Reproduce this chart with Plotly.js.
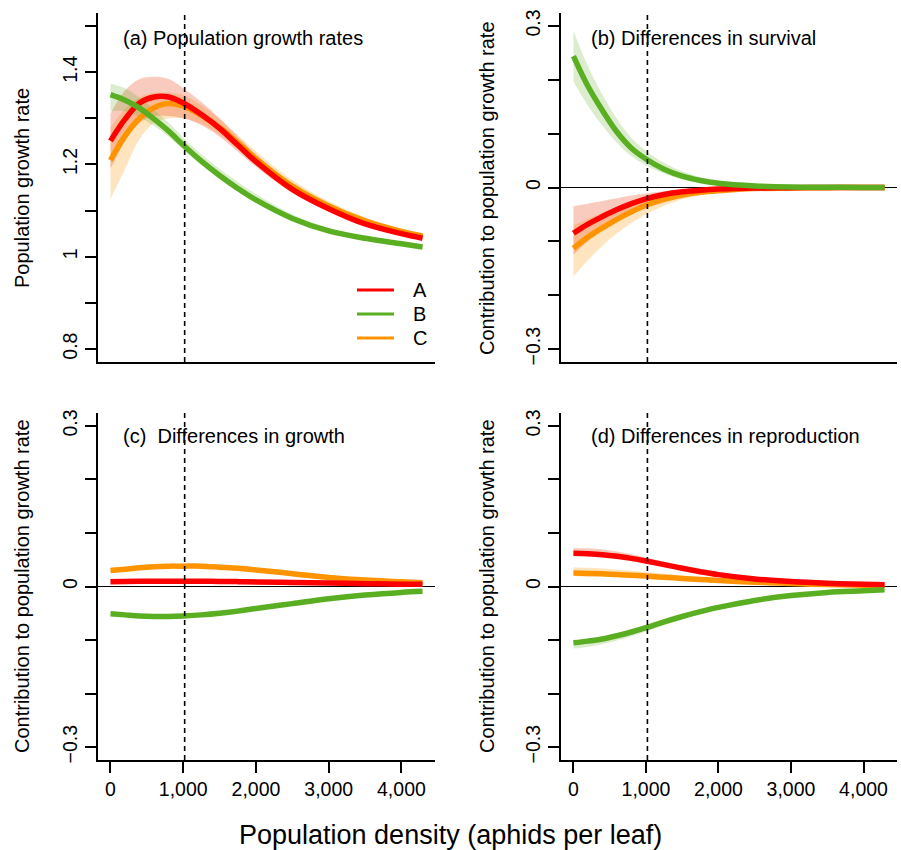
<!DOCTYPE html>
<html><head><meta charset="utf-8">
<script src="https://cdn.plot.ly/plotly-3.0.1.min.js"></script>
<style>html,body{margin:0;padding:0;background:#fff}</style>
</head><body><div id="plot" style="width:901px;height:850px"></div>
<script>
// ---------------- data ----------------
const density = [0, 200, 400, 600, 800, 1000, 1250, 1500, 1750, 2000, 2500, 3000, 3500, 4000, 4290];
const seriesNames = ['A', 'B', 'C'];
const seriesColors = ['#FF0000', '#5AAE22', '#FF9400'];
const ribbonColors = ['rgba(235,80,40,0.30)', 'rgba(90,174,34,0.22)', 'rgba(255,150,0,0.25)'];

// (a) population growth rates
const growthA = [1.251, 1.298, 1.333, 1.346, 1.346, 1.333, 1.308, 1.278, 1.242, 1.206, 1.146, 1.104, 1.071, 1.050, 1.040];
const growthB = [1.351, 1.339, 1.322, 1.298, 1.272, 1.242, 1.207, 1.176, 1.148, 1.123, 1.083, 1.056, 1.040, 1.028, 1.021];
const growthC = [1.209, 1.262, 1.300, 1.323, 1.332, 1.326, 1.306, 1.280, 1.247, 1.212, 1.153, 1.110, 1.078, 1.055, 1.045];
const growthA_lo = [1.190, 1.250, 1.290, 1.305, 1.305, 1.300, 1.285, 1.260, 1.228, 1.195, 1.138, 1.098, 1.066, 1.046, 1.037];
const growthA_hi = [1.310, 1.360, 1.385, 1.390, 1.385, 1.365, 1.335, 1.300, 1.260, 1.222, 1.158, 1.112, 1.077, 1.055, 1.045];
const growthB_lo = [1.315, 1.315, 1.302, 1.283, 1.260, 1.232, 1.199, 1.169, 1.142, 1.118, 1.079, 1.053, 1.037, 1.026, 1.019];
const growthB_hi = [1.375, 1.365, 1.345, 1.318, 1.290, 1.258, 1.222, 1.190, 1.162, 1.136, 1.092, 1.062, 1.044, 1.031, 1.023];
const growthC_lo = [1.125, 1.190, 1.255, 1.290, 1.300, 1.300, 1.288, 1.265, 1.234, 1.200, 1.142, 1.102, 1.071, 1.050, 1.041];
const growthC_hi = [1.280, 1.320, 1.345, 1.355, 1.355, 1.350, 1.328, 1.298, 1.263, 1.228, 1.166, 1.120, 1.085, 1.060, 1.050];

// (b) differences in survival
const survA = [-0.085, -0.068, -0.054, -0.041, -0.030, -0.021, -0.013, -0.008, -0.005, -0.003, -0.001, -0.0004, -0.0001, 0, 0];
const survB = [0.244, 0.188, 0.143, 0.103, 0.073, 0.053, 0.034, 0.021, 0.013, 0.008, 0.003, 0.001, 0.0005, 0.0002, 0.0001];
const survC = [-0.113, -0.092, -0.075, -0.059, -0.045, -0.033, -0.022, -0.014, -0.009, -0.006, -0.002, -0.001, -0.0003, -0.0001, 0];
const survA_lo = [-0.125, -0.100, -0.080, -0.062, -0.046, -0.033, -0.021, -0.013, -0.008, -0.005, -0.002, -0.0007, -0.0002, 0, 0];
const survA_hi = [-0.035, -0.030, -0.025, -0.020, -0.015, -0.011, -0.007, -0.004, -0.002, -0.001, 0, 0, 0, 0, 0];
const survB_lo = [0.197, 0.152, 0.115, 0.083, 0.058, 0.041, 0.026, 0.015, 0.009, 0.005, 0.002, 0.0005, 0.0002, 0.0001, 0];
const survB_hi = [0.290, 0.225, 0.172, 0.127, 0.092, 0.068, 0.046, 0.030, 0.019, 0.012, 0.005, 0.002, 0.001, 0.0004, 0.0002];
const survC_lo = [-0.165, -0.135, -0.108, -0.085, -0.066, -0.050, -0.034, -0.022, -0.014, -0.009, -0.004, -0.0015, -0.0005, -0.0002, 0];
const survC_hi = [-0.070, -0.058, -0.047, -0.037, -0.028, -0.020, -0.013, -0.008, -0.005, -0.003, -0.001, 0, 0, 0, 0];

// (c) differences in growth
const grA = [0.0090, 0.0094, 0.0097, 0.0099, 0.0100, 0.0100, 0.0098, 0.0095, 0.0091, 0.0086, 0.0075, 0.0064, 0.0053, 0.0044, 0.0040];
const grB = [-0.051, -0.053, -0.055, -0.056, -0.056, -0.055, -0.053, -0.050, -0.046, -0.041, -0.032, -0.023, -0.016, -0.011, -0.009];
const grC = [0.030, 0.032, 0.035, 0.037, 0.038, 0.038, 0.038, 0.036, 0.034, 0.031, 0.024, 0.017, 0.012, 0.009, 0.007];

// (d) differences in reproduction
const repA = [0.062, 0.0612, 0.0595, 0.0565, 0.0525, 0.0475, 0.0408, 0.0340, 0.0277, 0.0222, 0.0142, 0.0092, 0.0060, 0.0040, 0.0032];
const repB = [-0.105, -0.102, -0.098, -0.092, -0.085, -0.077, -0.066, -0.056, -0.047, -0.039, -0.026, -0.017, -0.011, -0.008, -0.006];
const repC = [0.025, 0.0245, 0.0236, 0.0224, 0.0210, 0.0194, 0.0172, 0.0150, 0.0130, 0.0112, 0.0080, 0.0055, 0.0037, 0.0025, 0.0020];
const repA_lo = [0.058, 0.057, 0.0555, 0.0525, 0.0488, 0.0440, 0.0377, 0.0312, 0.0254, 0.0202, 0.0128, 0.0082, 0.0052, 0.0034, 0.0027];
const repA_hi = [0.072, 0.0712, 0.0690, 0.0652, 0.0602, 0.0542, 0.0463, 0.0385, 0.0313, 0.0250, 0.0160, 0.0104, 0.0068, 0.0046, 0.0037];
const repB_lo = [-0.116, -0.113, -0.108, -0.101, -0.093, -0.084, -0.072, -0.061, -0.051, -0.042, -0.028, -0.018, -0.012, -0.0085, -0.0065];
const repB_hi = [-0.101, -0.098, -0.094, -0.088, -0.081, -0.073, -0.063, -0.053, -0.045, -0.037, -0.025, -0.016, -0.010, -0.0075, -0.0055];
const repC_lo = [0.019, 0.0187, 0.0180, 0.0171, 0.0160, 0.0148, 0.0131, 0.0114, 0.0099, 0.0085, 0.0061, 0.0042, 0.0028, 0.0019, 0.0015];
const repC_hi = [0.036, 0.0350, 0.0335, 0.0315, 0.0293, 0.0270, 0.0238, 0.0206, 0.0177, 0.0151, 0.0107, 0.0073, 0.0049, 0.0033, 0.0027];

const xTickVals = [0, 1000, 2000, 3000, 4000];
const xTickText = ['0', '1,000', '2,000', '3,000', '4,000'];
const yTickValsA = [0.8, 0.9, 1.0, 1.1, 1.2, 1.3, 1.4, 1.5];
const yTickTextA = ['0.8', '', '1', '', '1.2', '', '1.4', ''];
const yTickValsC = [-0.3, -0.2, -0.1, 0, 0.1, 0.2, 0.3];
const yTickTextC = ['\u22120.3', '', '', '0', '', '', '0.3'];
const referenceDensity = 1020;
const panelTitles = ['(a) Population growth rates', '(b) Differences in survival', '(c)  Differences in growth', '(d) Differences in reproduction'];
const yTitles = ['Population growth rate', 'Contribution to population growth rate', 'Contribution to population growth rate', 'Contribution to population growth rate'];
const xTitle = 'Population density (aphids per leaf)';

// ---------------- build ----------------
const W = 901, H = 850;
const FONT = 'Liberation Sans, Arial, Helvetica, sans-serif';
const px = v => v / W;
const py = v => 1 - v / H;

const panels = [
  {ax: '', lines: [growthA, growthB, growthC], ribbons: [[growthA_lo, growthA_hi], [growthB_lo, growthB_hi], [growthC_lo, growthC_hi]]},
  {ax: '2', lines: [survA, survB, survC], ribbons: [[survA_lo, survA_hi], [survB_lo, survB_hi], [survC_lo, survC_hi]]},
  {ax: '3', lines: [grA, grB, grC], ribbons: null},
  {ax: '4', lines: [repA, repB, repC], ribbons: [[repA_lo, repA_hi], [repB_lo, repB_hi], [repC_lo, repC_hi]]}
];
const drawOrder = [2, 0, 1]; // C, A, B (B on top)

const traces = [];
panels.forEach(p => {
  const xa = 'x' + p.ax, ya = 'y' + p.ax;
  if (p.ribbons) {
    [2, 0, 1].forEach(i => {
      const [lo, hi] = p.ribbons[i];
      traces.push({x: density, y: lo, xaxis: xa, yaxis: ya, mode: 'lines', line: {width: 0, shape: 'spline', color: ribbonColors[i]}, showlegend: false, hoverinfo: 'skip'});
      traces.push({x: density, y: hi, xaxis: xa, yaxis: ya, mode: 'lines', fill: 'tonexty', fillcolor: ribbonColors[i], line: {width: 0, shape: 'spline', color: ribbonColors[i]}, showlegend: false, hoverinfo: 'skip'});
    });
  }
  drawOrder.forEach(i => {
    traces.push({x: density, y: p.lines[i], xaxis: xa, yaxis: ya, mode: 'lines', name: seriesNames[i],
      line: {width: 5.5, shape: 'spline', color: seriesColors[i]}, showlegend: false});
  });
});

const xRange = [-171.6, 4461.6];
const xDomL = [98 / W, 435 / W], xDomR = [561 / W, 897 / W];
const yDomT = [py(362), py(13)], yDomB = [py(760), py(413)];

function xaxis(domain, anchor, labels) {
  return {domain, anchor, range: xRange, showline: true, linecolor: '#000', linewidth: 2, mirror: false,
    showgrid: false, zeroline: false, ticks: labels ? 'outside' : '', ticklen: 11, tickwidth: 2, tickcolor: '#000',
    tickvals: xTickVals, ticktext: xTickText, showticklabels: labels,
    tickfont: {family: FONT, size: 19.5, color: '#000'}};
}
function yaxis(domain, anchor, range, vals, text) {
  return {domain, anchor, range, showline: true, linecolor: '#000', linewidth: 2, mirror: false,
    showgrid: false, zeroline: false, ticks: 'outside', ticklen: 11, tickwidth: 2, tickcolor: '#000',
    tickvals: vals, ticktext: text, tickangle: -90,
    tickfont: {family: FONT, size: 19.5, color: '#000'}};
}

const yRangeC = [-0.324, 0.324];
const layout = {
  width: W, height: H, margin: {l: 0, r: 0, t: 0, b: 0}, paper_bgcolor: '#fff', plot_bgcolor: 'rgba(0,0,0,0)',
  showlegend: false, font: {family: FONT, color: '#000'},
  xaxis: xaxis(xDomL, 'y', false), yaxis: yaxis(yDomT, 'x', [0.772, 1.528], yTickValsA, yTickTextA),
  xaxis2: xaxis(xDomR, 'y2', false), yaxis2: yaxis(yDomT, 'x2', yRangeC, yTickValsC, yTickTextC),
  xaxis3: xaxis(xDomL, 'y3', true), yaxis3: yaxis(yDomB, 'x3', yRangeC, yTickValsC, yTickTextC),
  xaxis4: xaxis(xDomR, 'y4', true), yaxis4: yaxis(yDomB, 'x4', yRangeC, yTickValsC, yTickTextC),
  shapes: [], annotations: []
};

// reference lines
['', '2', '3', '4'].forEach((a, k) => {
  layout.shapes.push({type: 'line', xref: 'x' + a, yref: 'y' + a + ' domain', x0: referenceDensity, x1: referenceDensity, y0: 0, y1: 1,
    line: {color: '#000', width: 1.6, dash: '5px,4px'}, layer: 'above'});
  if (k > 0) layout.shapes.push({type: 'line', xref: 'x' + a + ' domain', yref: 'y' + a, x0: 0, x1: 1, y0: 0, y1: 0,
    line: {color: '#000', width: 1.2}, layer: 'below'});
});

// panel titles
const titlePos = [[121, 38], [589, 38], [121, 436], [589, 436]];
panelTitles.forEach((t, i) => layout.annotations.push({text: t, xref: 'paper', yref: 'paper', x: px(titlePos[i][0]), y: py(titlePos[i][1]),
  xanchor: 'left', yanchor: 'middle', showarrow: false, font: {family: FONT, size: 20, color: '#000'}}));
// y titles
const yTitlePos = [[22, 188], [487, 188], [22, 586], [487, 586]];
yTitles.forEach((t, i) => layout.annotations.push({text: t, xref: 'paper', yref: 'paper', x: px(yTitlePos[i][0]), y: py(yTitlePos[i][1]),
  xanchor: 'center', yanchor: 'middle', textangle: -90, showarrow: false, font: {family: FONT, size: 20, color: '#000'}}));
// x title
layout.annotations.push({text: xTitle, xref: 'paper', yref: 'paper', x: px(450), y: py(835), xanchor: 'center', yanchor: 'middle',
  showarrow: false, font: {family: FONT, size: 27, color: '#000'}});

// legend in panel (a)
const legY = [290, 314, 338];
seriesNames.forEach((n, i) => {
  layout.shapes.push({type: 'line', xref: 'paper', yref: 'paper', x0: px(357), x1: px(394), y0: py(legY[i]), y1: py(legY[i]),
    line: {color: seriesColors[i], width: 3}});
  layout.annotations.push({text: n, xref: 'paper', yref: 'paper', x: px(411), y: py(legY[i]), xanchor: 'left', yanchor: 'middle',
    showarrow: false, font: {family: FONT, size: 20, color: '#000'}});
});

Plotly.newPlot('plot', traces, layout, {staticPlot: true, displayModeBar: false});
</script></body></html>
